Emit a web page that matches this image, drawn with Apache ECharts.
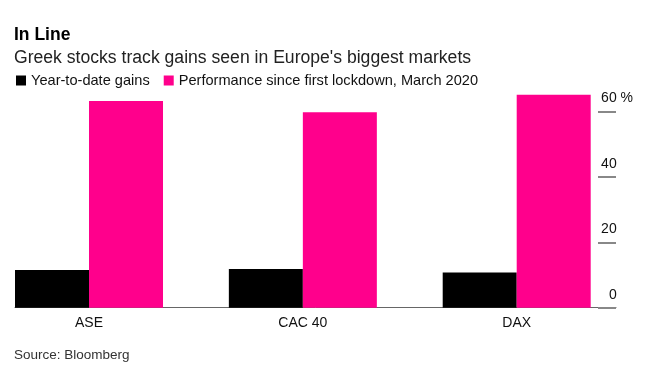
<!DOCTYPE html>
<html>
<head>
<meta charset="utf-8">
<script src="https://cdn.jsdelivr.net/npm/echarts@6/dist/echarts.min.js"></script>
<style>
html,body{margin:0;padding:0;background:#fff;}
#c{width:650px;height:384px;}
</style>
</head>
<body>
<div id="c"></div>
<script>
var categories = ['ASE', 'CAC 40', 'DAX'];
var ytdGains = [11.5, 11.8, 10.8];
var sinceLockdown = [63.2, 59.8, 65.1];
var yTicks = [0, 20, 40, 60];
var seriesNames = ['Year-to-date gains', 'Performance since first lockdown, March 2020'];

var FONT = '"Liberation Sans", Arial, Helvetica, sans-serif';
var chart = echarts.init(document.getElementById('c'), null, {renderer: 'canvas'});
chart.setOption({
  animation: false,
  backgroundColor: '#fff',
  textStyle: {fontFamily: FONT},
  title: [
    {text: 'In Line', left: 9, top: 21, textStyle: {fontFamily: FONT, fontSize: 17.5, fontWeight: 'bold', color: '#000'}},
    {text: 'Greek stocks track gains seen in Europe\'s biggest markets', left: 9, top: 44, textStyle: {fontFamily: FONT, fontSize: 17.6, fontWeight: 'normal', color: '#222'}},
    {text: 'Source: Bloomberg', left: 9, top: 343, textStyle: {fontFamily: FONT, fontSize: 13.5, fontWeight: 'normal', color: '#333'}}
  ],
  legend: {
    left: 11, top: 68, itemWidth: 10, itemHeight: 10, itemGap: 14,
    icon: 'rect',
    textStyle: {fontFamily: FONT, fontSize: 14.6, color: '#111'},
    data: seriesNames
  },
  grid: [
    {left: 89, right: 133.3, top: 78.8, bottom: 76.3, containLabel: false},
    {left: 15, right: 34, top: 111.5, bottom: 76.3, containLabel: false}
  ],
  xAxis: [
    {type: 'category', gridIndex: 0, data: categories, boundaryGap: false,
     axisLine: {show: false}, axisTick: {show: false}, splitLine: {show: false},
     axisLabel: {fontFamily: FONT, fontSize: 14, color: '#111', margin: 8}},
    {type: 'value', gridIndex: 1, min: 0, max: 1,
     axisLine: {show: true, onZero: false, lineStyle: {color: '#666', width: 1}},
     axisTick: {show: false}, axisLabel: {show: false}, splitLine: {show: false}}
  ],
  yAxis: [
    {type: 'value', gridIndex: 0, min: 0, max: 70, show: false, splitLine: {show: false}},
    {type: 'value', gridIndex: 1, position: 'right', min: 0, max: 60, interval: 20,
     axisLine: {show: false, onZero: false},
     axisTick: {show: true, inside: true, length: 18, lineStyle: {color: '#888', width: 2}},
     splitLine: {show: false},
     axisLabel: {
       margin: 17, align: 'right', verticalAlign: 'bottom', padding: [0, 0, 6, 0],
       fontFamily: FONT, fontSize: 14, color: '#111',
       formatter: function (v) { return v + (v === yTicks[yTicks.length - 1] ? '{p| %}' : '{h| %}'); },
       rich: {
         p: {fontFamily: FONT, fontSize: 14, color: '#111'},
         h: {fontFamily: FONT, fontSize: 14, color: 'rgba(0,0,0,0)'}
       }
     }}
  ],
  series: [
    {name: seriesNames[0], type: 'bar', xAxisIndex: 0, yAxisIndex: 0, data: ytdGains, clip: false,
     barWidth: 74, barGap: '0%', itemStyle: {color: '#000'}},
    {name: seriesNames[1], type: 'bar', xAxisIndex: 0, yAxisIndex: 0, data: sinceLockdown, clip: false,
     barWidth: 74, barGap: '0%', itemStyle: {color: '#ff008c'}}
  ]
});
</script>
</body>
</html>
